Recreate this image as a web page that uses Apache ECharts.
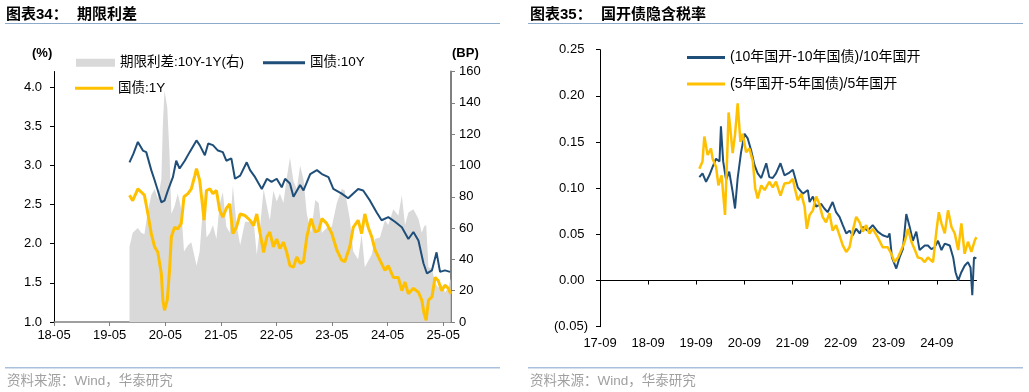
<!DOCTYPE html>
<html>
<head>
<meta charset="utf-8">
<script src="https://cdn.jsdelivr.net/npm/echarts@6/dist/echarts.min.js"></script>
<style>
html,body{margin:0;padding:0;background:#fff;}
#c{width:1029px;height:392px;}
</style>
</head>
<body>
<div id="c"></div>
<script>
// ---------- Chart 34: 期限利差 ----------
const tenYDates = ['2019-09-09','2019-10-05','2019-11-03','2019-12-06','2019-12-28','2020-01-30','2020-02-21','2020-03-13','2020-04-05','2020-04-26','2020-05-18','2020-06-20','2020-07-12','2020-08-03','2020-09-06','2020-10-08','2020-11-22','2020-12-13','2021-01-16','2021-02-07','2021-03-10','2021-04-12','2021-05-14','2021-06-06','2021-07-09','2021-08-02','2021-09-05','2021-10-18','2021-11-09','2021-12-12','2022-01-25','2022-02-28','2022-03-30','2022-05-03','2022-06-05','2022-06-27','2022-07-29','2022-08-21','2022-10-04','2022-10-26','2022-12-09','2023-01-22','2023-02-24','2023-04-08','2023-05-10','2023-07-04','2023-08-15','2023-10-20','2023-11-22','2024-01-06','2024-02-19','2024-03-22','2024-05-05','2024-06-18','2024-08-02','2024-09-14','2024-10-17','2024-11-19','2024-12-22','2025-01-14','2025-02-16','2025-03-18','2025-04-10','2025-05-12','2025-06-15'];
const tenYValues = [3.04,3.15,3.30,3.19,3.17,2.94,2.81,2.68,2.53,2.55,2.68,2.85,3.06,2.96,3.06,3.17,3.32,3.26,3.13,3.28,3.26,3.19,3.17,3.06,3.09,2.83,2.87,3.04,2.94,2.85,2.70,2.83,2.79,2.83,2.72,2.83,2.77,2.60,2.75,2.68,2.89,2.94,2.89,2.85,2.70,2.64,2.58,2.70,2.68,2.55,2.40,2.30,2.34,2.28,2.21,2.06,2.15,2.04,1.75,1.62,1.66,1.89,1.64,1.66,1.64];

const oneYDates = ['2019-09-09','2019-09-30','2019-11-03','2019-11-25','2019-12-16','2020-01-08','2020-01-30','2020-02-21','2020-03-13','2020-04-05','2020-04-15','2020-04-26','2020-05-14','2020-05-29','2020-06-10','2020-07-01','2020-07-22','2020-08-14','2020-09-01','2020-09-27','2020-10-19','2020-11-11','2020-11-22','2020-12-13','2020-12-28','2021-01-11','2021-01-27','2021-02-18','2021-03-10','2021-04-02','2021-04-23','2021-05-14','2021-06-06','2021-06-28','2021-07-19','2021-08-11','2021-09-05','2021-10-07','2021-11-09','2021-12-02','2021-12-23','2022-01-14','2022-02-06','2022-02-28','2022-03-19','2022-04-11','2022-05-03','2022-05-24','2022-06-16','2022-07-08','2022-07-29','2022-08-21','2022-09-12','2022-10-04','2022-10-26','2022-11-17','2022-12-15','2023-01-11','2023-02-03','2023-02-24','2023-03-27','2023-04-30','2023-06-02','2023-07-04','2023-07-24','2023-08-26','2023-09-18','2023-10-20','2023-11-12','2023-12-03','2023-12-25','2024-01-17','2024-02-08','2024-03-11','2024-04-13','2024-05-05','2024-06-07','2024-07-10','2024-08-02','2024-08-23','2024-09-14','2024-10-17','2024-11-19','2024-12-11','2024-12-26','2025-01-09','2025-01-24','2025-02-16','2025-03-08','2025-03-29','2025-04-21','2025-05-12','2025-06-04','2025-06-19'];
const oneYValues = [2.62,2.55,2.70,2.66,2.62,2.38,2.13,1.96,1.89,1.62,1.28,1.15,1.28,1.66,2.09,2.21,2.19,2.26,2.60,2.64,2.70,2.87,2.96,2.81,2.55,2.30,2.68,2.70,2.64,2.68,2.43,2.34,2.45,2.51,2.13,2.21,2.38,2.36,2.30,2.23,2.38,2.13,1.89,2.09,2.15,1.96,2.06,1.94,2.02,1.89,1.72,1.70,1.83,1.75,1.77,2.09,2.32,2.15,2.17,2.32,2.26,2.13,1.92,1.79,1.77,1.96,2.21,2.30,2.13,2.38,2.21,2.09,1.92,1.79,1.66,1.72,1.57,1.57,1.40,1.51,1.36,1.43,1.38,1.28,1.11,1.02,1.28,1.32,1.57,1.53,1.40,1.47,1.43,1.36];

// spread (BP), read on the same dates as the 1Y series
const spreadDates = oneYDates;
const spreadValues = [48,57,60,57,56,71,81,85,79,91,126,148,137,107,69,74,82,72,45,49,51,41,36,45,65,85,54,57,62,53,75,83,61,57,87,63,49,64,64,65,43,61,85,74,65,84,77,82,76,92,105,90,85,100,91,69,57,78,76,57,60,61,76,85,84,66,45,40,56,35,39,43,53,54,65,62,72,68,81,62,70,72,66,57,61,62,35,34,25,22,24,19,22,28];

const leftXTicks = ['2018-05-01','2019-05-01','2020-05-01','2021-05-01','2022-05-01','2023-05-01','2024-05-01','2025-05-01'];

// ---------- Chart 35: 国开债隐含税率 ----------
const cdb10Dates = ['2019-09-25','2019-10-19','2019-11-15','2019-12-10','2020-01-04','2020-01-30','2020-02-25','2020-03-07','2020-03-24','2020-04-15','2020-05-09','2020-06-04','2020-06-22','2020-07-12','2020-08-07','2020-09-02','2020-09-26','2020-10-22','2020-11-17','2020-12-11','2021-01-07','2021-02-14','2021-03-09','2021-04-04','2021-04-29','2021-06-02','2021-07-02','2021-08-09','2021-09-04','2021-10-11','2021-11-19','2021-12-27','2022-01-09','2022-02-03','2022-02-28','2022-04-06','2022-05-01','2022-05-26','2022-07-03','2022-07-29','2022-08-24','2022-09-18','2022-10-14','2022-11-08','2022-12-03','2022-12-29','2023-01-24','2023-02-17','2023-03-26','2023-05-03','2023-06-10','2023-07-18','2023-08-26','2023-09-08','2023-09-26','2023-10-29','2023-11-23','2023-12-18','2024-01-13','2024-02-08','2024-03-03','2024-03-29','2024-04-23','2024-06-01','2024-06-25','2024-07-21','2024-08-15','2024-09-10','2024-10-06','2024-10-31','2024-12-08','2025-01-03','2025-01-21','2025-02-10','2025-03-06','2025-03-31','2025-04-25','2025-05-15','2025-05-28','2025-06-10','2025-06-28'];
const cdb10Values = [0.112,0.116,0.107,0.114,0.123,0.132,0.129,0.167,0.129,0.109,0.118,0.096,0.078,0.111,0.139,0.159,0.154,0.141,0.125,0.116,0.111,0.127,0.112,0.111,0.116,0.127,0.114,0.117,0.120,0.101,0.094,0.098,0.085,0.091,0.080,0.083,0.078,0.074,0.085,0.074,0.069,0.060,0.051,0.054,0.049,0.056,0.051,0.058,0.054,0.060,0.053,0.049,0.047,0.051,0.025,0.013,0.025,0.034,0.072,0.058,0.043,0.053,0.033,0.038,0.038,0.034,0.036,0.043,0.033,0.040,0.038,0.025,0.009,0.000,0.009,0.016,0.020,0.014,-0.016,0.025,0.024];

const cdb5Dates = ['2019-09-25','2019-10-19','2019-11-02','2019-11-27','2019-12-22','2020-01-04','2020-01-30','2020-02-17','2020-03-12','2020-04-07','2020-04-27','2020-05-04','2020-05-17','2020-06-04','2020-06-22','2020-07-12','2020-08-02','2020-08-19','2020-09-14','2020-10-09','2020-11-04','2020-11-22','2020-12-11','2021-01-07','2021-02-02','2021-03-09','2021-04-04','2021-04-29','2021-06-02','2021-07-02','2021-08-09','2021-09-04','2021-09-17','2021-10-11','2021-11-07','2021-12-02','2021-12-19','2022-01-09','2022-02-03','2022-02-28','2022-03-24','2022-04-18','2022-05-14','2022-06-09','2022-07-03','2022-07-29','2022-08-24','2022-09-18','2022-10-14','2022-11-08','2022-12-03','2022-12-29','2023-01-24','2023-02-17','2023-03-14','2023-04-09','2023-05-03','2023-06-10','2023-07-18','2023-08-26','2023-09-21','2023-10-16','2023-11-11','2023-12-06','2024-01-01','2024-01-26','2024-02-21','2024-03-16','2024-04-10','2024-05-06','2024-06-01','2024-06-25','2024-08-03','2024-08-29','2024-09-16','2024-10-06','2024-10-31','2024-11-25','2024-12-21','2025-01-15','2025-02-10','2025-03-06','2025-03-31','2025-04-25','2025-05-21','2025-06-15','2025-06-28'];
const cdb5Values = [0.121,0.129,0.156,0.136,0.143,0.132,0.123,0.103,0.114,0.071,0.150,0.182,0.165,0.138,0.158,0.192,0.150,0.159,0.139,0.143,0.129,0.100,0.089,0.103,0.098,0.107,0.101,0.107,0.092,0.105,0.106,0.110,0.101,0.087,0.094,0.080,0.056,0.071,0.076,0.091,0.083,0.069,0.063,0.073,0.054,0.060,0.049,0.038,0.031,0.036,0.054,0.069,0.063,0.053,0.060,0.051,0.056,0.047,0.036,0.036,0.029,0.020,0.025,0.033,0.042,0.056,0.042,0.034,0.025,0.024,0.020,0.025,0.020,0.054,0.074,0.062,0.051,0.076,0.058,0.051,0.033,0.062,0.029,0.042,0.031,0.043,0.047];

const rightXTicks = ['2017-09-01','2018-09-01','2019-09-01','2020-09-01','2021-09-01','2022-09-01','2023-09-01','2024-09-01'];

// ---------- helpers ----------
const FONT = '"Liberation Sans", Arial, "Noto Sans CJK SC", sans-serif';
function ts(s){ const p = s.split('-').map(Number); return new Date(p[0], p[1]-1, p[2]).getTime(); }
function zip(d, v){ return d.map((x,i)=>[ts(x), v[i]]); }
function ymFmt(v){ const d = new Date(v); return String(d.getFullYear()%100).padStart(2,'0') + '-' + String(d.getMonth()+1).padStart(2,'0'); }

const BLUE = '#1F4E79', YELLOW = '#FFC000', GRAY = '#D9D9D9';
const TITLE_FONT = 'bold 15px "Liberation Sans", "Noto Sans CJK SC", sans-serif';
const SRC_FONT = '13.5px "Liberation Sans", "Noto Sans CJK SC", sans-serif';

const chart = echarts.init(document.getElementById('c'), null, {renderer:'canvas'});
const option = {
  animation: false,
  backgroundColor: '#fff',
  textStyle: {fontFamily: FONT},
  grid: [
    {left: 54, top: 71.5, width: 397, height: 250.5, containLabel: false},
    {left: 600, top: 49.7, width: 376.5, height: 277, containLabel: false}
  ],
  xAxis: [
    {type:'value', gridIndex:0, min: ts('2018-05-01'), max: ts('2025-06-21'), position:'bottom',
     axisLine:{onZero:false, lineStyle:{color:'#808080', width:1.5}},
     axisTick:{show:true, length:4, lineStyle:{color:'#808080'}, customValues: leftXTicks.map(ts)},
     axisLabel:{color:'#000', fontSize:13, fontFamily:FONT, margin:7, formatter: ymFmt, customValues: leftXTicks.map(ts)},
     splitLine:{show:false}},
    {type:'value', gridIndex:1, min: ts('2017-09-01'), max: ts('2025-06-29'),
     axisLine:{onZero:true, lineStyle:{color:'#000', width:1}},
     axisTick:{show:true, length:4, lineStyle:{color:'#000'}, customValues: rightXTicks.map(ts)},
     axisLabel:{color:'#000', fontSize:13, fontFamily:FONT, margin:10, formatter: ymFmt, customValues: rightXTicks.map(ts)},
     splitLine:{show:false}}
  ],
  yAxis: [
    {type:'value', gridIndex:0, min:1.0, max:4.2, interval:0.5, position:'left',
     axisLine:{show:true, lineStyle:{color:'#000', width:1}},
     axisTick:{show:true, length:4, lineStyle:{color:'#000'}},
     axisLabel:{color:'#000', fontSize:13, fontFamily:FONT, margin:12, showMaxLabel:false, formatter: v => v.toFixed(1)},
     splitLine:{show:false}},
    {type:'value', gridIndex:0, min:0, max:160, interval:20, position:'right',
     axisLine:{show:true, lineStyle:{color:'#808080', width:2}},
     axisTick:{show:true, length:4, lineStyle:{color:'#808080'}},
     axisLabel:{color:'#000', fontSize:13, fontFamily:FONT, margin:8},
     splitLine:{show:false}},
    {type:'value', gridIndex:1, min:-0.05, max:0.25, interval:0.05, position:'left',
     axisLine:{show:true, onZero:false, lineStyle:{color:'#000', width:1}},
     axisTick:{show:true, length:4, lineStyle:{color:'#000'}},
     axisLabel:{color:'#000', fontSize:13, fontFamily:FONT, margin:12,
       formatter: v => v < -1e-9 ? '(' + Math.abs(v).toFixed(2) + ')' : Math.abs(v).toFixed(2) + ' '},
     splitLine:{show:false}}
  ],
  legend: [
    {left:76, top:56, padding:0, itemWidth:39, itemHeight:8, textStyle:{fontSize:13.5, color:'#000', fontFamily:FONT},
     data:[{name:'期限利差:10Y-1Y(右)', icon:'rect', itemStyle:{color:GRAY}}]},
    {left:263, top:56, padding:0, itemWidth:42, itemHeight:3, textStyle:{fontSize:13.5, color:'#000', fontFamily:FONT},
     data:[{name:'国债:10Y', icon:'rect'}]},
    {left:75, top:81.5, padding:0, itemWidth:38, itemHeight:3, textStyle:{fontSize:13.5, color:'#000', fontFamily:FONT},
     data:[{name:'国债:1Y', icon:'rect'}]},
    {left:687, top:50.5, padding:0, itemWidth:38, itemHeight:3, textStyle:{fontSize:14, color:'#000', fontFamily:FONT},
     data:[{name:'(10年国开-10年国债)/10年国开', icon:'rect'}]},
    {left:687, top:77, padding:0, itemWidth:38, itemHeight:3, textStyle:{fontSize:14, color:'#000', fontFamily:FONT},
     data:[{name:'(5年国开-5年国债)/5年国开', icon:'rect'}]}
  ],
  series: [
    {name:'期限利差:10Y-1Y(右)', type:'line', xAxisIndex:0, yAxisIndex:1, data: zip(spreadDates, spreadValues),
     showSymbol:false, symbol:'none', lineStyle:{width:0, color:GRAY}, itemStyle:{color:GRAY},
     areaStyle:{color:GRAY, opacity:1}, z:1},
    {name:'国债:10Y', type:'line', xAxisIndex:0, yAxisIndex:0, data: zip(tenYDates, tenYValues),
     showSymbol:false, symbol:'none', lineStyle:{width:2, color:BLUE}, itemStyle:{color:BLUE}, z:3},
    {name:'国债:1Y', type:'line', xAxisIndex:0, yAxisIndex:0, data: zip(oneYDates, oneYValues),
     showSymbol:false, symbol:'none', lineStyle:{width:3, color:YELLOW}, itemStyle:{color:YELLOW}, z:4},
    {name:'(10年国开-10年国债)/10年国开', type:'line', xAxisIndex:1, yAxisIndex:2, data: zip(cdb10Dates, cdb10Values),
     showSymbol:false, symbol:'none', lineStyle:{width:2, color:BLUE}, itemStyle:{color:BLUE}, z:3},
    {name:'(5年国开-5年国债)/5年国开', type:'line', xAxisIndex:1, yAxisIndex:2, data: zip(cdb5Dates, cdb5Values),
     showSymbol:false, symbol:'none', lineStyle:{width:2.5, color:YELLOW}, itemStyle:{color:YELLOW}, z:4}
  ],
  graphic: [
    {type:'text', left:6, top:7, style:{text:'图表34：', font:TITLE_FONT, fill:'#000'}},
    {type:'text', left:77, top:7, style:{text:'期限利差', font:TITLE_FONT, fill:'#000'}},
    {type:'text', left:530, top:7, style:{text:'图表35：', font:TITLE_FONT, fill:'#000'}},
    {type:'text', left:601, top:7, style:{text:'国开债隐含税率', font:TITLE_FONT, fill:'#000'}},
    {type:'rect', shape:{x:5, y:23, width:495, height:1}, style:{fill:'#8EAACB'}},
    {type:'rect', shape:{x:528, y:23, width:495, height:1}, style:{fill:'#8EAACB'}},
    {type:'rect', shape:{x:5, y:367, width:495, height:1.5}, style:{fill:'#A9C1DB'}},
    {type:'rect', shape:{x:528, y:367, width:495, height:1.5}, style:{fill:'#A9C1DB'}},
    {type:'text', left:7, top:375, style:{text:'资料来源：Wind，华泰研究', font:SRC_FONT, fill:'#A0A0A0'}},
    {type:'text', left:530, top:375, style:{text:'资料来源：Wind，华泰研究', font:SRC_FONT, fill:'#A0A0A0'}},
    {type:'text', left:32, top:47, style:{text:'(%)', font:'bold 13px "Liberation Sans", sans-serif', fill:'#000'}},
    {type:'text', left:452, top:47, style:{text:'(BP)', font:'bold 13px "Liberation Sans", sans-serif', fill:'#000'}}
  ]
};
chart.setOption(option);
</script>
</body>
</html>
